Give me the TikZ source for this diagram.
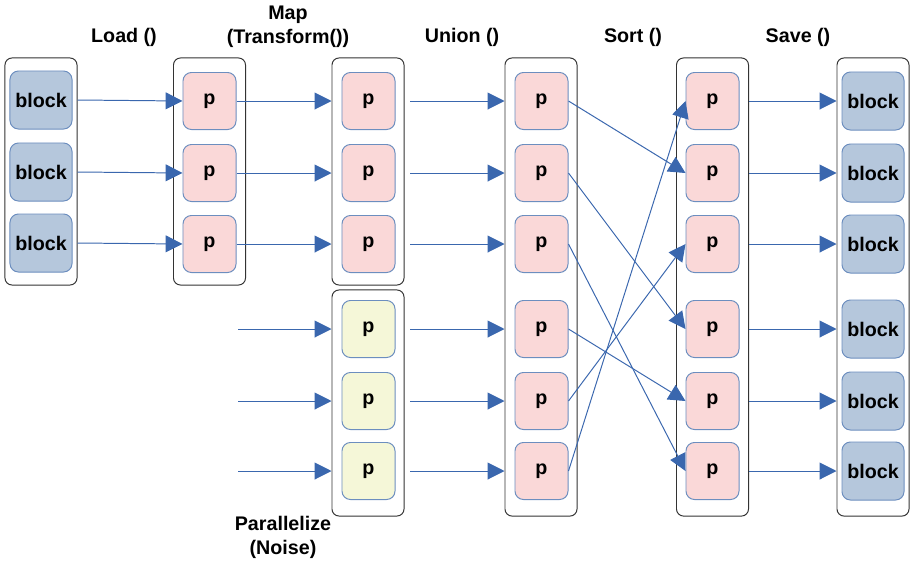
\documentclass[tikz,border=0pt]{standalone}
\usepackage{fontspec}
\setmainfont{Liberation Sans}
\usepackage{tikz}
\usetikzlibrary{arrows.meta,positioning}

\definecolor{blockfill}{RGB}{181,199,220}
\definecolor{partfill}{RGB}{250,216,216}
\definecolor{noisefill}{RGB}{245,247,216}
\definecolor{boxline}{RGB}{108,142,191}
\definecolor{flowline}{RGB}{58,103,174}

\tikzstyle{Block} = [draw=boxline, fill=blockfill, rounded corners=6pt, line width=0.7pt, minimum width=1.55cm, minimum height=1.45cm, font=\fontsize{14}{16}\selectfont\bfseries]
\tikzstyle{Part}  = [Block, fill=partfill, minimum width=1.325cm, minimum height=1.425cm]
\tikzstyle{Noise} = [Part, fill=noisefill]
\tikzstyle{Stage} = [draw=black!80, rounded corners=5pt, line width=0.7pt, minimum width=1.8cm, inner sep=0pt]
\tikzstyle{Title} = [align=center, font=\fontsize{14}{17}\selectfont\bfseries]
\tikzstyle{Flow}  = [->, draw=flowline, color=flowline, line width=0.7pt]

\begin{document}
\begin{tikzpicture}[x=0.025cm, y=-0.025cm, >={Triangle[length=12pt,width=12pt]}]
    \useasboundingbox (0,0) rectangle (912,561);

    % stage frames
    \node[Stage, minimum height=5.675cm] (read)  at (41,171.5)  {};
    \node[Stage, minimum height=5.675cm] (load)  at (209.5,171.5) {};
    \node[Stage, minimum height=5.675cm] (map)   at (368,171.5) {};
    \node[Stage, minimum height=5.65cm]  (noise) at (368,403)   {};
    \node[Stage, minimum height=11.45cm] (union) at (541,287)   {};
    \node[Stage, minimum height=11.45cm] (sort)  at (712.5,287) {};
    \node[Stage, minimum height=11.45cm] (save)  at (873,287)   {};

    % stage titles
    \node[Title] (tload)  at (124,37)  {Load ()};
    \node[Title] (tmap)   at (288,27)  {Map\\(Transform())};
    \node[Title] (tunion) at (462,37)  {Union ()};
    \node[Title] (tsort)  at (633,37)  {Sort ()};
    \node[Title] (tsave)  at (798,37)  {Save ()};
    \node[Title] (tnoise) at (283,537) {Parallelize\\(Noise)};

    % input blocks
    \node[Block] (b1) at (41,100) {block};
    \node[Block] (b2) at (41,172) {block};
    \node[Block] (b3) at (41,243) {block};

    % loaded partitions
    \node[Part] (l1) at (209.5,101) {p};
    \node[Part] (l2) at (209.5,173) {p};
    \node[Part] (l3) at (209.5,244) {p};

    % mapped partitions
    \node[Part] (m1) at (368.5,101) {p};
    \node[Part] (m2) at (368.5,173) {p};
    \node[Part] (m3) at (368.5,244) {p};

    % noise partitions
    \node[Noise] (n1) at (368.5,329) {p};
    \node[Noise] (n2) at (368.5,401) {p};
    \node[Noise] (n3) at (368.5,471) {p};
    \coordinate (in1) at (238,329);
    \coordinate (in2) at (238,401);
    \coordinate (in3) at (238,471);

    % union partitions
    \node[Part] (u1) at (541.5,101) {p};
    \node[Part] (u2) at (541.5,173) {p};
    \node[Part] (u3) at (541.5,244) {p};
    \node[Part] (u4) at (541.5,329) {p};
    \node[Part] (u5) at (541.5,401) {p};
    \node[Part] (u6) at (541.5,471) {p};

    % sorted partitions
    \node[Part] (s1) at (712.5,101) {p};
    \node[Part] (s2) at (712.5,173) {p};
    \node[Part] (s3) at (712.5,244) {p};
    \node[Part] (s4) at (712.5,329) {p};
    \node[Part] (s5) at (712.5,401) {p};
    \node[Part] (s6) at (712.5,471) {p};

    % output blocks
    \node[Block] (o1) at (873,101) {block};
    \node[Block] (o2) at (873,173) {block};
    \node[Block] (o3) at (873,244) {block};
    \node[Block] (o4) at (873,329) {block};
    \node[Block] (o5) at (873,401) {block};
    \node[Block] (o6) at (873,471) {block};

    % load
    \draw[Flow] (b1.east -| read.east) -- (l1.west);
    \draw[Flow] (b2.east -| read.east) -- (l2.west);
    \draw[Flow] (b3.east -| read.east) -- (l3.west);

    % map
    \draw[Flow] (l1.east) -- (m1.west -| map.west);
    \draw[Flow] (l2.east) -- (m2.west -| map.west);
    \draw[Flow] (l3.east) -- (m3.west -| map.west);

    % parallelize
    \draw[Flow] (in1) -- (n1.west -| noise.west);
    \draw[Flow] (in2) -- (n2.west -| noise.west);
    \draw[Flow] (in3) -- (n3.west -| noise.west);

    % union
    \draw[Flow] ([xshift=4pt]m1.east -| map.east)   -- (u1.west -| union.west);
    \draw[Flow] ([xshift=4pt]m2.east -| map.east)   -- (u2.west -| union.west);
    \draw[Flow] ([xshift=4pt]m3.east -| map.east)   -- (u3.west -| union.west);
    \draw[Flow] ([xshift=4pt]n1.east -| noise.east) -- (u4.west -| union.west);
    \draw[Flow] ([xshift=4pt]n2.east -| noise.east) -- (u5.west -| union.west);
    \draw[Flow] ([xshift=4pt]n3.east -| noise.east) -- (u6.west -| union.west);

    % sort
    \draw[Flow] (u1.east) -- (s2.west);
    \draw[Flow] (u2.east) -- (s4.west);
    \draw[Flow] (u3.east) -- (s6.west);
    \draw[Flow] (u4.east) -- (s5.west);
    \draw[Flow] (u5.east) -- (s3.west);
    \draw[Flow] (u6.east) -- (s1.west);

    % save
    \draw[Flow] (s1.east -| sort.east) -- (o1.west -| save.west);
    \draw[Flow] (s2.east -| sort.east) -- (o2.west -| save.west);
    \draw[Flow] (s3.east -| sort.east) -- (o3.west -| save.west);
    \draw[Flow] (s4.east -| sort.east) -- (o4.west -| save.west);
    \draw[Flow] (s5.east -| sort.east) -- (o5.west -| save.west);
    \draw[Flow] (s6.east -| sort.east) -- (o6.west -| save.west);
\end{tikzpicture}
\end{document}
